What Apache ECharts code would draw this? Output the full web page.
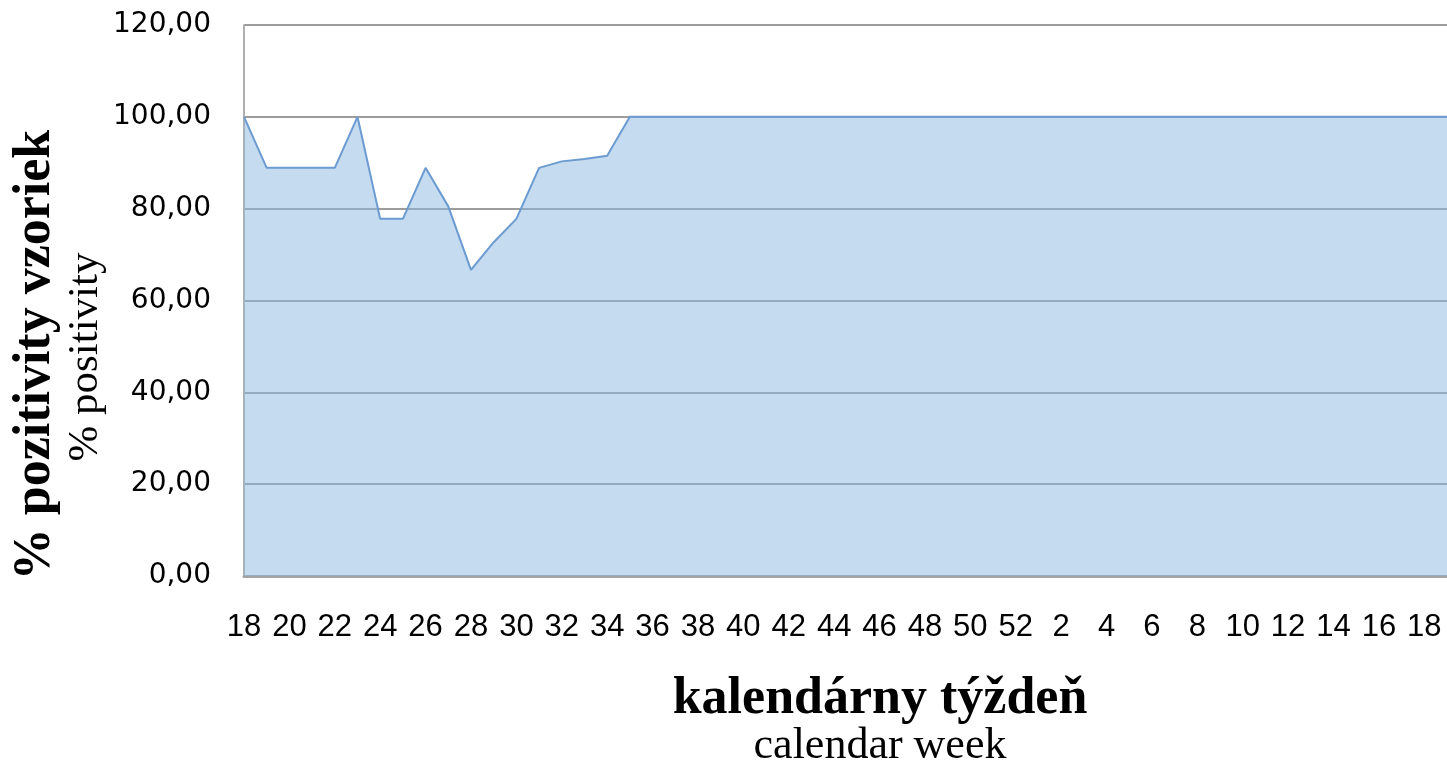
<!DOCTYPE html>
<html>
<head>
<meta charset="utf-8">
<script src="https://cdn.jsdelivr.net/npm/echarts@6/dist/echarts.min.js"></script>
<style>
html,body{margin:0;padding:0;background:#fff;}
#chart{width:1447px;height:769px;}
</style>
</head>
<body>
<div id="chart"></div>
<script>
// calendar weeks: 18..52 (2020), then 1..19 (2021)
const weeks = [18,19,20,21,22,23,24,25,26,27,28,29,30,31,32,33,34,35,36,37,38,39,40,41,42,43,44,45,46,47,48,49,50,51,52,
  1,2,3,4,5,6,7,8,9,10,11,12,13,14,15,16,17,18,19];
// % positivity per week
const positivity = [100,88.89,88.89,88.89,88.89,100,77.78,77.78,88.89,80.5,66.67,72.7,77.78,88.89,90.3,90.8,91.5,100,100,100,
  100,100,100,100,100,100,100,100,100,100,100,100,100,100,100,
  100,100,100,100,100,100,100,100,100,100,100,100,100,100,100,100,100,100,100];
const yTicks = {min:0, max:120, step:20};
const titleSk = 'kalendárny týždeň';
const titleEn = 'calendar week';
const yTitleSk = '% pozitivity vzoriek';
const yTitleEn = '% positivity';

const chart = echarts.init(document.getElementById('chart'), null, {renderer:'canvas'});
chart.setOption({
  animation:false,
  grid:{left:244, top:25, right:-8, bottom:193, containLabel:false},
  xAxis:{
    type:'category',
    data:weeks.map(String),
    boundaryGap:false,
    axisLine:{show:true, lineStyle:{color:'#a3a3a3', width:3}},
    axisTick:{show:false},
    axisLabel:{interval:1, margin:36, color:'#000', fontFamily:'Liberation Sans', fontSize:31},
    splitLine:{show:false}
  },
  yAxis:{
    type:'value',
    min:yTicks.min, max:yTicks.max, interval:yTicks.step,
    axisLine:{show:true, lineStyle:{color:'#b0b0b0', width:2}},
    axisTick:{show:false},
    axisLabel:{margin:33, color:'#000', fontFamily:'DejaVu Sans', fontSize:28,
      formatter:v => v.toFixed(2).replace('.', ',')},
    splitLine:{show:true, lineStyle:{color:'#9c9c9c', width:2}}
  },
  series:[{
    type:'line',
    data:positivity,
    symbol:'none',
    lineStyle:{color:'#6b9bd0', width:2},
    areaStyle:{color:'rgba(140,184,226,0.5)', opacity:1},
    z:2
  }],
  graphic:[
    {type:'text', x:880, y:700, style:{text:titleSk, fontFamily:'Liberation Serif', fontWeight:'bold', fontSize:52, fill:'#000', align:'center', verticalAlign:'middle'}},
    {type:'text', x:880, y:746, style:{text:titleEn, fontFamily:'Liberation Serif', fontSize:44, fill:'#000', align:'center', verticalAlign:'middle'}},
    {type:'text', x:36, y:355, rotation:Math.PI/2, style:{text:yTitleSk, fontFamily:'Liberation Serif', fontWeight:'bold', fontSize:52, fill:'#000', align:'center', verticalAlign:'middle'}},
    {type:'text', x:86, y:357, rotation:Math.PI/2, style:{text:yTitleEn, fontFamily:'Liberation Serif', fontSize:43, fill:'#000', align:'center', verticalAlign:'middle'}}
  ]
});
</script>
</body>
</html>
